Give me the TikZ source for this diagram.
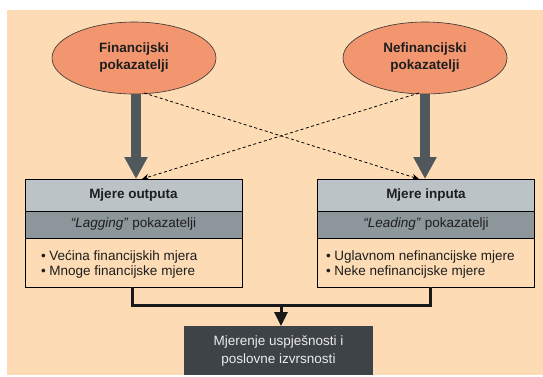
\documentclass[tikz,border=0pt]{standalone}
\usepackage{fontspec}
\setmainfont{Liberation Sans}
\usetikzlibrary{arrows.meta,shapes.geometric,calc}
\definecolor{bgc}{HTML}{FDDBB4}
\definecolor{ellc}{HTML}{F2966F}
\definecolor{hdrc}{HTML}{BCC3C7}
\definecolor{bandc}{HTML}{8D979B}
\definecolor{shaftc}{HTML}{50585C}
\definecolor{darkbox}{HTML}{3D4347}
\definecolor{txtc}{HTML}{1E1E1E}
\begin{document}
\begin{tikzpicture}[x=1pt,y=-1pt,
  every node/.style={inner sep=0pt, outer sep=0pt, text=txtc},
  ell/.style={ellipse, draw=black!80, line width=0.6pt, fill=ellc, minimum width=164pt, minimum height=72pt, align=center, font=\fontsize{13.5}{17}\selectfont\bfseries},
  hdr/.style={rectangle, draw=black, line width=0.6pt, fill=hdrc, minimum width=217pt, minimum height=32pt, font=\fontsize{13.5}{16}\selectfont\bfseries},
  band/.style={rectangle, draw=black, line width=0.6pt, fill=bandc, minimum width=217pt, minimum height=27pt, font=\fontsize{13.5}{16}\selectfont},
  bodybox/.style={rectangle, draw=black, line width=0.6pt, fill=bgc, minimum width=217pt, minimum height=49pt},
  bullets/.style={anchor=west, align=left, font=\fontsize{13.5}{15.5}\selectfont},
  thickarrow/.style={draw=shaftc, line width=10pt, -{Triangle[width=22pt,length=22pt]}},
  dasharrow/.style={draw=black, line width=0.8pt, dash pattern=on 3pt off 2.5pt, -{Stealth[length=7pt,width=6pt]}},
  joinline/.style={draw=black!90, line width=3pt},
  joinarrow/.style={draw=black!90, line width=3pt, -{Triangle[width=13pt,length=14pt]}},
  finalbox/.style={rectangle, fill=darkbox, minimum width=189pt, minimum height=49pt, align=center, text=black!8, font=\fontsize{13.5}{18}\selectfont}
]
\useasboundingbox (0,0) rectangle (543,376);
\fill[bgc] (7,10) rectangle (543,375);

% ellipses
\node[ell] (fin) at (134,58) {Financijski\\pokazatelji};
\node[ell] (nef) at (425,58) {Nefinancijski\\pokazatelji};

% left box
\node[hdr] (lh) at (133.5,195) {Mjere outputa};
\node[band, anchor=north] (lb) at (lh.south) {\textit{“Lagging”} pokazatelji};
\node[bodybox, anchor=north] (lbody) at (lb.south) {};
\node[bullets] (ltext) at (41,264.5) {\textbullet\ Većina financijskih mjera\\\textbullet\ Mnoge financijske mjere};

% right box
\node[hdr] (rh) at (426,195) {Mjere inputa};
\node[band, anchor=north] (rb) at (rh.south) {\textit{“Leading”} pokazatelji};
\node[bodybox, anchor=north] (rbody) at (rb.south) {};
\node[bullets] (rtext) at (326,264.5) {\textbullet\ Uglavnom nefinancijske mjere\\\textbullet\ Neke nefinancijske mjere};

% final box
\node[finalbox] (fin2) at (278.5,350.5) {Mjerenje uspješnosti i\\poslovne izvrsnosti};

% thick arrows
\coordinate (la) at (136,0);
\coordinate (ra) at (425,0);
\draw[thickarrow] (fin.south -| la) -- (lh.north -| la);
\draw[thickarrow] (nef.south -| ra) -- (rh.north -| ra);

% dashed cross arrows
\coordinate (d1s) at (144,0);
\coordinate (d1e) at (419,0);
\coordinate (d2s) at (419,0);
\coordinate (d2e) at (142,0);
\draw[dasharrow] ($(fin.south -| d1s)+(0,-1)$) -- (rh.north -| d1e);
\draw[dasharrow] ($(nef.south -| d2s)+(0,-1)$) -- (lh.north -| d2e);

% joining connector
\coordinate (lj) at (132,305.5);
\coordinate (rj) at (430,305.5);
\coordinate (mj) at (281,305.5);
\draw[joinline] (lbody.south -| lj) -- (lj) -- (rj) -- (rbody.south -| rj);
\draw[joinarrow] (mj) -- (fin2.north -| mj);
\end{tikzpicture}
\end{document}
